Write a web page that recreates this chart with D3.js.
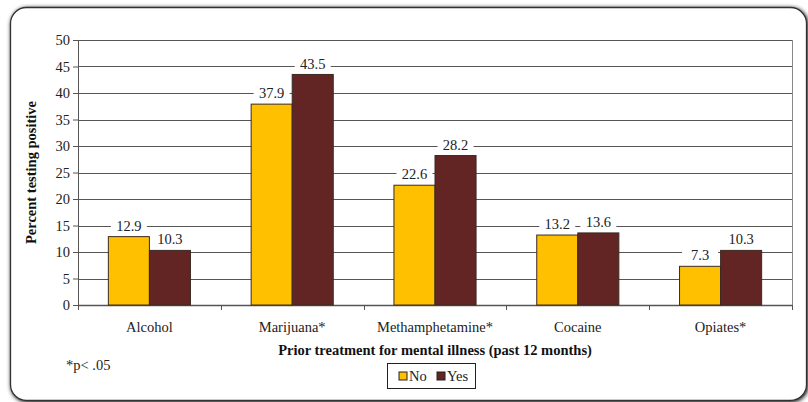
<!DOCTYPE html>
<html>
<head>
<meta charset="utf-8">
<script src="https://cdn.jsdelivr.net/npm/d3@7"></script>
<style>
body { margin: 0; background: #fff; }
svg text { font-family: "Liberation Serif", "Times New Roman", serif; }
</style>
</head>
<body>
<script>
var categories = ["Alcohol", "Marijuana*", "Methamphetamine*", "Cocaine", "Opiates*"];
var seriesNames = ["No", "Yes"];
var noValues = [12.9, 37.9, 22.6, 13.2, 7.3];
var yesValues = [10.3, 43.5, 28.2, 13.6, 10.3];
var yTicks = [0, 5, 10, 15, 20, 25, 30, 35, 40, 45, 50];
var colors = ["#FFC000", "#632523"];

var width = 808, height = 402;
var margin = {top: 40, right: 16, bottom: 97, left: 78};
var plotW = width - margin.left - margin.right,
    plotH = height - margin.top - margin.bottom;
var fs = 14.5;

var svg = d3.select("body").append("svg")
    .attr("width", width)
    .attr("height", height);

var defs = svg.append("defs");
var f = defs.append("filter").attr("id", "sh").attr("x", "-5%").attr("y", "-5%").attr("width", "110%").attr("height", "110%");
f.append("feGaussianBlur").attr("in", "SourceAlpha").attr("stdDeviation", 2);
f.append("feOffset").attr("dx", 1).attr("dy", 1).attr("result", "b");
var fm = f.append("feMerge");
fm.append("feMergeNode").attr("in", "b");
fm.append("feMergeNode").attr("in", "SourceGraphic");

// outer frame
svg.append("rect")
    .attr("x", 10.5).attr("y", 7.5)
    .attr("width", 796).attr("height", 393)
    .attr("rx", 16).attr("ry", 16)
    .attr("fill", "#fff")
    .attr("stroke", "#333").attr("stroke-width", 1.3)
    .attr("filter", "url(#sh)");

var x0 = d3.scaleBand().domain(categories).range([0, plotW]).paddingInner(0.425).paddingOuter(0.2125);
var x1 = d3.scaleBand().domain(seriesNames).range([0, x0.bandwidth()]);
var y = d3.scaleLinear().domain([0, 50]).range([plotH, 0]);

var g = svg.append("g").attr("transform", "translate(" + margin.left + "," + margin.top + ")");

// gridlines
g.selectAll(".grid").data(yTicks.filter(function (d) { return d > 0; }))
    .enter().append("line")
    .attr("x1", 0).attr("x2", plotW)
    .attr("y1", function (d) { return Math.round(y(d)) + 0.5; })
    .attr("y2", function (d) { return Math.round(y(d)) + 0.5; })
    .attr("stroke", "#555").attr("stroke-width", 1);

// right border of plot
g.append("line")
    .attr("x1", plotW + 0.5).attr("x2", plotW + 0.5)
    .attr("y1", 0).attr("y2", plotH)
    .attr("stroke", "#888");

// y axis
var yAxis = g.append("g")
    .call(d3.axisLeft(y).tickValues(yTicks).tickSize(5).tickSizeOuter(0));
yAxis.select(".domain").attr("stroke", "#555");
yAxis.selectAll(".tick line").attr("stroke", "#555");
yAxis.selectAll("text").attr("font-size", fs).attr("fill", "#222").attr("x", -8);

// x axis (category boundary ticks)
var boundaries = d3.range(categories.length + 1).map(function (i) { return i * x0.step(); });
var xAxisG = g.append("g").attr("transform", "translate(0," + plotH + ")");
xAxisG.append("line").attr("x1", 0).attr("x2", plotW).attr("y1", 0.5).attr("y2", 0.5).attr("stroke", "#555").attr("stroke-width", 1.5);
xAxisG.selectAll(".bt").data(boundaries).enter().append("line")
    .attr("x1", function (d) { return Math.round(d) + 0.5; })
    .attr("x2", function (d) { return Math.round(d) + 0.5; })
    .attr("y1", 0).attr("y2", 5).attr("stroke", "#555");
xAxisG.selectAll(".cl").data(categories).enter().append("text")
    .attr("x", function (d) { return x0(d) + x0.bandwidth() / 2; })
    .attr("y", 27)
    .attr("text-anchor", "middle")
    .attr("font-size", fs).attr("fill", "#222")
    .text(function (d) { return d; });

// bars
var rows = categories.map(function (c, i) { return {cat: c, vals: [noValues[i], yesValues[i]]}; });
var grp = g.selectAll(".grp").data(rows).enter().append("g")
    .attr("transform", function (d) { return "translate(" + x0(d.cat) + ",0)"; });

grp.selectAll("rect").data(function (d) {
        return d.vals.map(function (v, j) { return {s: seriesNames[j], v: v, j: j}; });
    })
    .enter().append("rect")
    .attr("x", function (d) { return x1(d.s); })
    .attr("y", function (d) { return y(d.v); })
    .attr("width", x1.bandwidth())
    .attr("height", function (d) { return plotH - y(d.v); })
    .attr("fill", function (d) { return colors[d.j]; })
    .attr("stroke", "#3a2a22").attr("stroke-width", 1);

// value labels with white backing
var lab = grp.selectAll(".lab").data(function (d) {
        return d.vals.map(function (v, j) { return {s: seriesNames[j], v: v}; });
    })
    .enter().append("g")
    .attr("transform", function (d) { return "translate(" + (x1(d.s) + x1.bandwidth() / 2) + "," + (y(d.v) - 11) + ")"; });
lab.append("rect")
    .attr("x", -18).attr("y", -8).attr("width", 36).attr("height", 16)
    .attr("fill", "#fff");
lab.append("text")
    .attr("text-anchor", "middle").attr("dy", "0.35em")
    .attr("font-size", fs).attr("fill", "#222")
    .text(function (d) { return d.v.toFixed(1); });

// axis titles
svg.append("text")
    .attr("transform", "translate(36," + (margin.top + plotH / 2) + ") rotate(-90)")
    .attr("text-anchor", "middle")
    .attr("font-weight", "bold").attr("font-size", fs).attr("fill", "#111")
    .text("Percent testing positive");

svg.append("text")
    .attr("x", margin.left + plotW / 2).attr("y", 355)
    .attr("text-anchor", "middle")
    .attr("font-weight", "bold").attr("font-size", fs).attr("fill", "#111")
    .text("Prior treatment for mental illness (past 12 months)");

svg.append("text")
    .attr("x", 66).attr("y", 370)
    .attr("font-size", fs).attr("fill", "#222")
    .text("*p< .05");

// legend
var leg = svg.append("g").attr("transform", "translate(387,363)");
leg.append("rect").attr("x", 0.5).attr("y", 0.5).attr("width", 88).attr("height", 25)
    .attr("fill", "#fff").attr("stroke", "#222");
var items = leg.selectAll(".li").data(seriesNames).enter().append("g")
    .attr("transform", function (d, i) { return "translate(" + (12 + i * 38) + ",8)"; });
items.append("rect").attr("width", 8).attr("height", 8).attr("y", 1)
    .attr("fill", function (d, i) { return colors[i]; })
    .attr("stroke", "#222");
items.append("text").attr("x", 10).attr("y", 10)
    .attr("font-size", fs).attr("fill", "#222")
    .text(function (d) { return d; });
</script>
</body>
</html>
